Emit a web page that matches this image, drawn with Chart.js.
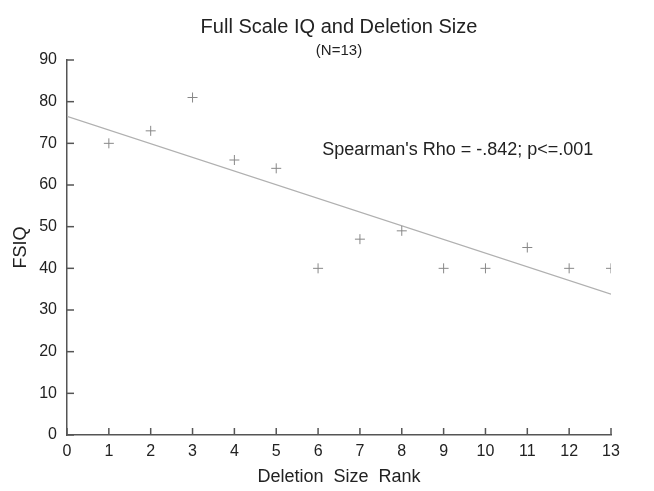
<!DOCTYPE html>
<html><head><meta charset="utf-8">
<script src="https://cdn.jsdelivr.net/npm/chart.js@4"></script>
<style>html,body{margin:0;padding:0;background:#fff}canvas{display:block}</style>
</head><body>
<canvas id="c" width="654" height="491"></canvas>
<script>
const ranks = [1,2,3,4,5,6,7,8,9,10,11,12,13];
const fsiq = [70,73,81,66,64,40,47,49,40,40,45,40,40];
const fitX = [0,13];
const fitY = [76.5,33.8];
const xTicks = [0,1,2,3,4,5,6,7,8,9,10,11,12,13];
const yTicks = [0,10,20,30,40,50,60,70,80,90];
const noteText = "Spearman's Rho = -.842; p<=.001";
const notePos = [6.1, 68.5];

const FONT = "'Liberation Sans', Arial, sans-serif";
const inward = {
  id:'inward',
  afterDraw(chart){
    const ctx = chart.ctx, xs = chart.scales.x, ys = chart.scales.y;
    ctx.save();
    ctx.strokeStyle = '#555'; ctx.lineWidth = 1.5;
    yTicks.forEach(v=>{const p=ys.getPixelForValue(v); ctx.beginPath(); ctx.moveTo(xs.left,p); ctx.lineTo(xs.left+7,p); ctx.stroke();});
    xTicks.forEach(v=>{const p=xs.getPixelForValue(v); ctx.beginPath(); ctx.moveTo(p,ys.bottom); ctx.lineTo(p,ys.bottom-7); ctx.stroke();});
    ctx.fillStyle='#222'; ctx.font='18px '+FONT; ctx.textAlign='left'; ctx.textBaseline='middle';
    ctx.fillText(noteText, xs.getPixelForValue(notePos[0]), ys.getPixelForValue(notePos[1]));
    ctx.restore();
  }
};
new Chart(document.getElementById('c'), {
  data:{datasets:[
    {type:'scatter', data: ranks.map((r,i)=>({x:r,y:fsiq[i]})), pointStyle:'cross', pointRadius:5, borderColor:'#888', backgroundColor:'#888', borderWidth:1},
    {type:'line', data: fitX.map((x,i)=>({x:x,y:fitY[i]})), borderColor:'#b0b0b0', borderWidth:1.2, pointRadius:0, fill:false}
  ]},
  options:{
    responsive:false, animation:false,
    layout:{padding:{left:0,right:43,top:0,bottom:0}},
    plugins:{
      legend:{display:false}, tooltip:{enabled:false},
      title:{display:true, fullSize:false, text:'Full Scale IQ and Deletion Size', color:'#222', font:{family:FONT,size:20,weight:'normal'}, padding:{top:15,bottom:3}},
      subtitle:{display:true, fullSize:false, text:'(N=13)', color:'#222', font:{family:FONT,size:15}, padding:{top:0,bottom:0}}
    },
    scales:{
      x:{type:'linear', min:0, max:13, afterBuildTicks:s=>{s.ticks=xTicks.map(v=>({value:v}));},
        ticks:{color:'#222', font:{family:FONT,size:16}, padding:7},
        grid:{drawOnChartArea:false, drawTicks:false}, border:{display:true,color:'#555',width:1.5},
        title:{display:true, text:'Deletion  Size  Rank', color:'#222', font:{family:FONT,size:18}, padding:3},
        afterFit:s=>{s.height=56;}},
      y:{type:'linear', min:0, max:90, afterBuildTicks:s=>{s.ticks=yTicks.map(v=>({value:v}));},
        ticks:{color:'#222', font:{family:FONT,size:16}, padding:10},
        grid:{drawOnChartArea:false, drawTicks:false}, border:{display:true,color:'#555',width:1.5},
        title:{display:true, text:'FSIQ', color:'#222', font:{family:FONT,size:18}, padding:10},
        afterFit:s=>{s.width=67;}}
    }
  },
  plugins:[inward]
});
</script>
</body></html>
